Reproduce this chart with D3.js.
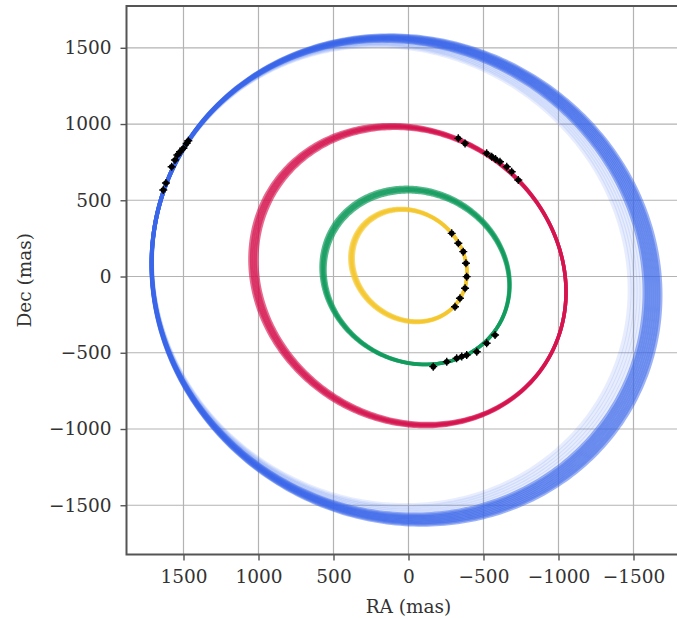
<!DOCTYPE html>
<html>
<head>
<meta charset="utf-8">
<script src="https://cdn.jsdelivr.net/npm/d3@7"></script>
<style>
  body { margin: 0; background: #fff; }
  svg { display: block; }
  text { font-family: "DejaVu Serif", serif; fill: #333; }
</style>
</head>
<body>
<svg id="chart" width="677" height="619"></svg>
<script>
// Axis ticks (mas)
const xTicks = [1500, 1000, 500, 0, -500, -1000, -1500];
const yTicks = [1500, 1000, 500, 0, -500, -1000, -1500];

// Orbit draws per planet: [centre RA, centre Dec, semi-axis a, semi-axis b, tilt of a (deg)]
const orbitsB = [
  [17.0, -23.0, 1719.0, 1581.0, 24], [23.5, -21.1, 1712.1, 1574.7, 24],
  [30.0, -19.2, 1705.2, 1568.4, 24], [36.5, -17.3, 1698.4, 1562.0, 24],
  [43.0, -15.4, 1691.5, 1555.7, 24], [49.5, -13.5, 1684.6, 1549.4, 24],
  [56.0, -11.6, 1677.7, 1543.1, 24], [62.4, -9.8, 1670.9, 1536.7, 24],
  [68.9, -7.9, 1664.0, 1530.4, 24]
];
// wider, sparser draws of the outer planet
const orbitsBWide = [
  [78.7, -5.0, 1653.7, 1520.9, 24], [88.4, -2.2, 1643.4, 1511.4, 24],
  [98.1, 0.6, 1633.1, 1502.0, 24],  [107.9, 3.5, 1622.7, 1492.5, 24],
  [117.6, 6.3, 1612.4, 1483.0, 24]
];
const orbitsC = [
  [3.5, 6.0, 1084.0, 956.7, 30],   [-2.3, 5.4, 1078.0, 951.4, 30],
  [-8.1, 4.8, 1072.1, 946.2, 30],  [-13.9, 4.2, 1066.1, 940.9, 30],
  [-19.7, 3.6, 1060.2, 935.6, 30]
];
const orbitsD = [
  [-47.0, 3.5, 643.0, 567.0, 25],  [-50.2, -1.1, 637.2, 561.9, 25],
  [-53.4, -5.7, 631.4, 556.8, 25], [-56.5, -10.2, 625.6, 551.7, 25]
];
const orbitsE = [
  [-10.7, 71.5, 396, 345, 36], [-6.9, 71.8, 400, 348, 36],
  [-3.1, 72.2, 404, 352, 36],  [0.7, 72.5, 408, 355, 36]
];

// Astrometric measurements: [RA, Dec] (mas)
const obsB = [[1635, 567], [1617, 613], [1579, 720], [1557, 764], [1541, 797],
              [1523, 818], [1501, 841], [1479, 873], [1468, 890]];
const obsC = [[-332, 906], [-377, 873], [-521, 808], [-555, 786], [-580, 770],
              [-610, 753], [-655, 720], [-688, 687], [-732, 633]];
const obsD = [[-165, -591], [-255, -559], [-321, -536], [-355, -525], [-388, -515],
              [-455, -493], [-521, -438], [-577, -384]];
const obsE = [[-288, 283], [-332, 218], [-365, 163], [-383, 87], [-388, -1],
              [-377, -77], [-343, -143], [-310, -198]];

const W = 677, H = 619;
const plot = { left: 126.5, top: 6, right: 690.5, bottom: 554.5 };
const fontSize = 18.5;

const x = d3.scaleLinear().domain([1880, -1880]).range([plot.left, plot.right]);
const y = d3.scaleLinear().domain([-1823, 1774]).range([plot.bottom, plot.top]);

const svg = d3.select("#chart");
svg.append("rect").attr("width", W).attr("height", H).attr("fill", "#fff");

// grid
const grid = svg.append("g").attr("stroke", "#b3b3b3").attr("stroke-width", 1.2);
grid.selectAll("line.gx").data(xTicks).join("line")
  .attr("x1", d => x(d)).attr("x2", d => x(d))
  .attr("y1", plot.top).attr("y2", plot.bottom);
grid.selectAll("line.gy").data(yTicks).join("line")
  .attr("x1", plot.left).attr("x2", plot.right)
  .attr("y1", d => y(d)).attr("y2", d => y(d));

// orbit draws
svg.append("clipPath").attr("id", "clip")
  .append("rect").attr("x", plot.left).attr("y", plot.top)
  .attr("width", plot.right - plot.left).attr("height", plot.bottom - plot.top);

const angles = d3.range(0, 360, 1).map(d => d * Math.PI / 180);
const line = d3.line().curve(d3.curveLinearClosed);
function orbitPath(o) {
  const [cx, cy, a, b, tilt] = o;
  const t = tilt * Math.PI / 180, ct = Math.cos(t), st = Math.sin(t);
  return line(angles.map(u => {
    const p = a * Math.cos(u), q = b * Math.sin(u);
    return [x(cx + p * ct - q * st), y(cy + p * st + q * ct)];
  }));
}

const gOrb = svg.append("g").attr("clip-path", "url(#clip)").attr("fill", "none");
const layers = [
  { draws: orbitsBWide, color: "#3d6bef", width: 4, opacity: 0.12 },
  { draws: orbitsB, color: "#3a66ea", width: 4, opacity: 0.5 },
  { draws: orbitsC, color: "#d5124e", width: 3.5, opacity: 0.62 },
  { draws: orbitsD, color: "#109a5b", width: 3.5, opacity: 0.7 },
  { draws: orbitsE, color: "#f5c62b", width: 3.5, opacity: 0.65 }
];
layers.forEach(p => {
  gOrb.append("g")
    .attr("stroke", p.color).attr("stroke-width", p.width).attr("stroke-opacity", p.opacity)
    .selectAll("path").data(p.draws).join("path")
    .attr("d", orbitPath);
});

// measurements with error bars
const gObs = svg.append("g");
[obsB, obsC, obsD, obsE].forEach(obs => {
  const g = gObs.append("g");
  g.selectAll("path").data(obs).join("path")
    .attr("d", d => `M${x(d[0]) - 4},${y(d[1])}h8M${x(d[0])},${y(d[1]) - 4}v8`)
    .attr("stroke", "#000").attr("stroke-width", 1.4);
  g.selectAll("circle").data(obs).join("circle")
    .attr("cx", d => x(d[0])).attr("cy", d => y(d[1])).attr("r", 2.8)
    .attr("fill", "#000");
});

// axes
const fmt = d3.format("d");
const xAxis = d3.axisBottom(x).tickValues(xTicks).tickSize(6).tickPadding(9)
  .tickFormat(d => fmt(d));
const yAxis = d3.axisLeft(y).tickValues(yTicks).tickSize(6).tickPadding(9)
  .tickFormat(d => fmt(d));

const gx = svg.append("g").attr("transform", `translate(0,${plot.bottom})`).call(xAxis);
const gy = svg.append("g").attr("transform", `translate(${plot.left},0)`).call(yAxis);
[gx, gy].forEach(g => {
  g.select(".domain").remove();
  g.selectAll(".tick line").attr("stroke", "#555").attr("stroke-width", 1.4);
  g.selectAll(".tick text").attr("font-size", fontSize).attr("fill", "#333")
    .attr("font-family", "DejaVu Serif, serif");
});

// spines (right spine lies beyond the visible area)
svg.append("path")
  .attr("d", `M${plot.right},${plot.top}H${plot.left}V${plot.bottom}H${plot.right}`)
  .attr("fill", "none").attr("stroke", "#555").attr("stroke-width", 2);

// axis titles
svg.append("text").attr("x", x(0)).attr("y", 613).attr("text-anchor", "middle")
  .attr("font-size", fontSize).text("RA (mas)");
svg.append("text").attr("transform", `translate(31,${(plot.top + plot.bottom) / 2}) rotate(-90)`)
  .attr("text-anchor", "middle").attr("font-size", fontSize).text("Dec (mas)");
</script>
</body>
</html>
